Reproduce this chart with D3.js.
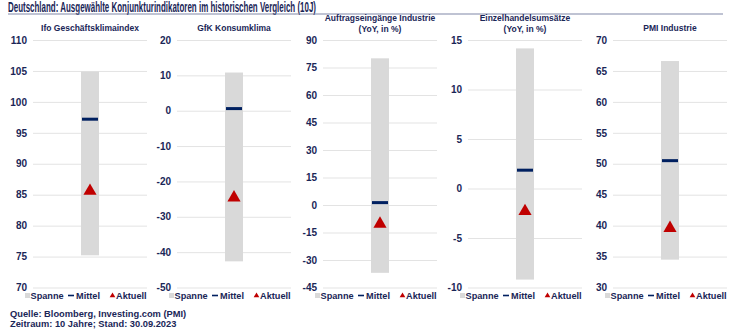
<!DOCTYPE html>
<html><head><meta charset="utf-8">
<script src="https://cdn.jsdelivr.net/npm/d3@7"></script>
<style>
body{margin:0;background:#fff;}
text{font-family:"Liberation Sans",Arial,sans-serif;font-weight:bold;}
</style></head>
<body><svg id="c" width="729" height="333"></svg>
<script>
const mainTitle = "Deutschland: Ausgewählte Konjunkturindikatoren im historischen Vergleich (10J)";
const panelTitles = [["Ifo Geschäftsklimaindex"],["GfK Konsumklima"],["Auftragseingänge Industrie","(YoY, in %)"],["Einzelhandelsumsätze","(YoY, in %)"],["PMI Industrie"]];
const rangeMin = [75.2, -42.6, -37, -9.2, 34.5];
const rangeMax = [104.9, 10.8, 80, 14.15, 66.6];
const meanVals = [97.2, 0.6, 1.3, 1.85, 50.5];
const currentVals = [85.6, -24.6, -10.3, -2.3, 39.6];
const axisMin = [70, -50, -45, -10, 30];
const axisMax = [110, 20, 90, 15, 70];
const axisStep = [5, 10, 15, 5, 5];
const legendLabels = ["Spanne","Mittel","Aktuell"];
const footer = ["Quelle: Bloomberg, Investing.com (PMI)","Zeitraum: 10 Jahre; Stand: 30.09.2023"];

const navy = "#1A2657", barGrey = "#D9D9D9", meanCol = "#002060", red = "#C00000";
const svg = d3.select("#c");

const tt = svg.append("text").attr("x",8).attr("y",11.5).attr("fill",navy)
  .attr("font-size",14).text(mainTitle);
tt.attr("textLength",308).attr("lengthAdjust","spacingAndGlyphs");
svg.append("line").attr("x1",8).attr("x2",723).attr("y1",14).attr("y2",14)
  .attr("stroke","#8088A8").attr("stroke-width",1.2);

const x0s = [33,177,323,468,613];
const pw = 114, plotTop = 40, plotBottom = 287.5;

panelTitles.forEach((t,i)=>{
  const g = svg.append("g").attr("transform",`translate(${x0s[i]},0)`);
  const y = d3.scaleLinear().domain([axisMin[i],axisMax[i]]).range([plotBottom,plotTop]);
  const x = d3.scaleBand().domain([t.join(" ")]).range([0,pw]);
  const ticks = d3.range(axisMin[i], axisMax[i]+axisStep[i]/2, axisStep[i]);
  const ax = g.append("g").call(d3.axisLeft(y).tickValues(ticks).tickSizeInner(-pw).tickSizeOuter(0).tickPadding(6).tickFormat(d => String(d)));
  ax.select(".domain").remove();
  ax.selectAll(".tick line").attr("stroke","#E3E3E3").attr("stroke-width",1);
  ax.selectAll(".tick text").attr("fill",navy).attr("font-size",10).attr("font-family","Liberation Sans, Arial, sans-serif").attr("font-weight","bold");
  const cx = x(t.join(" ")) + x.bandwidth()/2;
  g.append("rect").attr("x",cx-9).attr("width",18)
    .attr("y",y(rangeMax[i])).attr("height",y(rangeMin[i])-y(rangeMax[i])).attr("fill",barGrey);
  g.append("rect").attr("x",cx-8).attr("width",16).attr("y",y(meanVals[i])-1.5).attr("height",3).attr("fill",meanCol);
  g.append("path").attr("d",d3.symbol(d3.symbolTriangle,75)()).attr("transform",`translate(${cx},${y(currentVals[i])})`).attr("fill",red);
  const ty = t.length===1 ? 31 : 21;
  t.forEach((line,j)=>{
    g.append("text").attr("x",cx).attr("y",ty+j*10.5).attr("text-anchor","middle")
      .attr("fill",navy).attr("font-size",8.5).text(line);
  });
  const lg = g.append("g").attr("transform",`translate(-8,298.5)`);
  lg.append("rect").attr("x",0).attr("y",-5.5).attr("width",5).attr("height",5).attr("fill",barGrey);
  lg.append("text").attr("x",5.5).attr("y",0).attr("fill",navy).attr("font-size",9.2).text(legendLabels[0]);
  lg.append("rect").attr("x",43).attr("y",-3.8).attr("width",6).attr("height",1.6).attr("fill",meanCol);
  lg.append("text").attr("x",51).attr("y",0).attr("fill",navy).attr("font-size",9.2).text(legendLabels[1]);
  lg.append("path").attr("d",d3.symbol(d3.symbolTriangle,14)()).attr("transform","translate(87.5,-2.8)").attr("fill",red);
  lg.append("text").attr("x",91).attr("y",0).attr("fill",navy).attr("font-size",9.2).text(legendLabels[2]);
});

footer.forEach((f,i)=>{
  svg.append("text").attr("x",10).attr("y",316.5+i*10).attr("fill",navy).attr("font-size",9.3).text(f);
});
</script></body></html>
